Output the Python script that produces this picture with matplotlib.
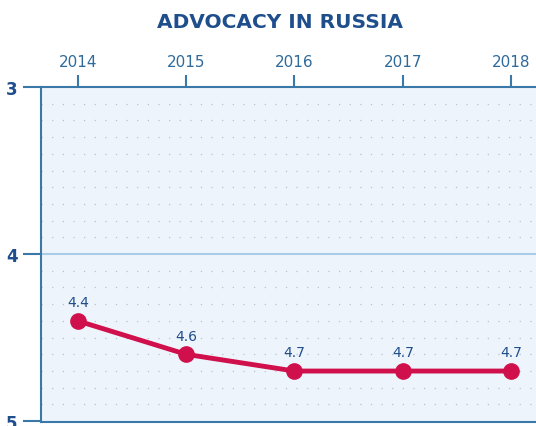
import matplotlib.pyplot as plt
import numpy as np

years = [2014, 2015, 2016, 2017, 2018]
scores = [4.4, 4.6, 4.7, 4.7, 4.7]
score_labels = ['4.4', '4.6', '4.7', '4.7', '4.7']

navy = '#1f4e8c'
axis_blue = '#3a78a8'
red = '#d0104c'

fig = plt.figure(figsize=(5.36, 4.27), dpi=100)
ax = fig.add_axes([41 / 536, 1 - 423 / 427, 1 - 41 / 536, (423 - 88) / 427])

ax.set_facecolor('#eef4fb')
ax.set_xlim(2013.66, 2018.23)
ax.set_ylim(5.005, 3)

# dotted grid every 0.1
for g in np.arange(3.1, 5.0, 0.1):
    if abs(g - 4) < 1e-6:
        continue
    ax.axhline(g, color='#b8c2cd', lw=0.9, ls=(0, (1, 7.5)), zorder=1)
ax.axhline(4, color='#a9cde6', lw=1.5, zorder=1)

ax.plot(years, scores, color=red, lw=3.5, marker='o', ms=11, zorder=3)
for x, y, t in zip(years, scores, score_labels):
    ax.text(x, y - 0.07, t, ha='center', va='bottom', color=navy, fontsize=10, zorder=4)

ax.spines['right'].set_visible(False)
for s in ['left', 'top', 'bottom']:
    ax.spines[s].set_color(axis_blue)
    ax.spines[s].set_linewidth(1.5)

ax.xaxis.tick_top()
ax.set_xticks(years)
ax.set_xticklabels([str(y) for y in years])
ax.tick_params(axis='x', length=9, width=1.5, color=axis_blue, labelcolor='#2f6a9a',
               labelsize=11, pad=4)
ax.set_yticks([3, 4, 5])
ax.set_yticklabels(['3', '4', '5'])
ax.tick_params(axis='y', length=13, width=1.5, color=axis_blue, labelcolor=navy,
               labelsize=12, pad=4)
for lbl in ax.get_yticklabels():
    lbl.set_fontweight('bold')

fig.text(280 / 536, 1 - 22 / 427, 'ADVOCACY IN RUSSIA', ha='center', va='center',
         color=navy, fontsize=14.5, fontweight='bold')

fig.savefig('out.png', dpi=100)
